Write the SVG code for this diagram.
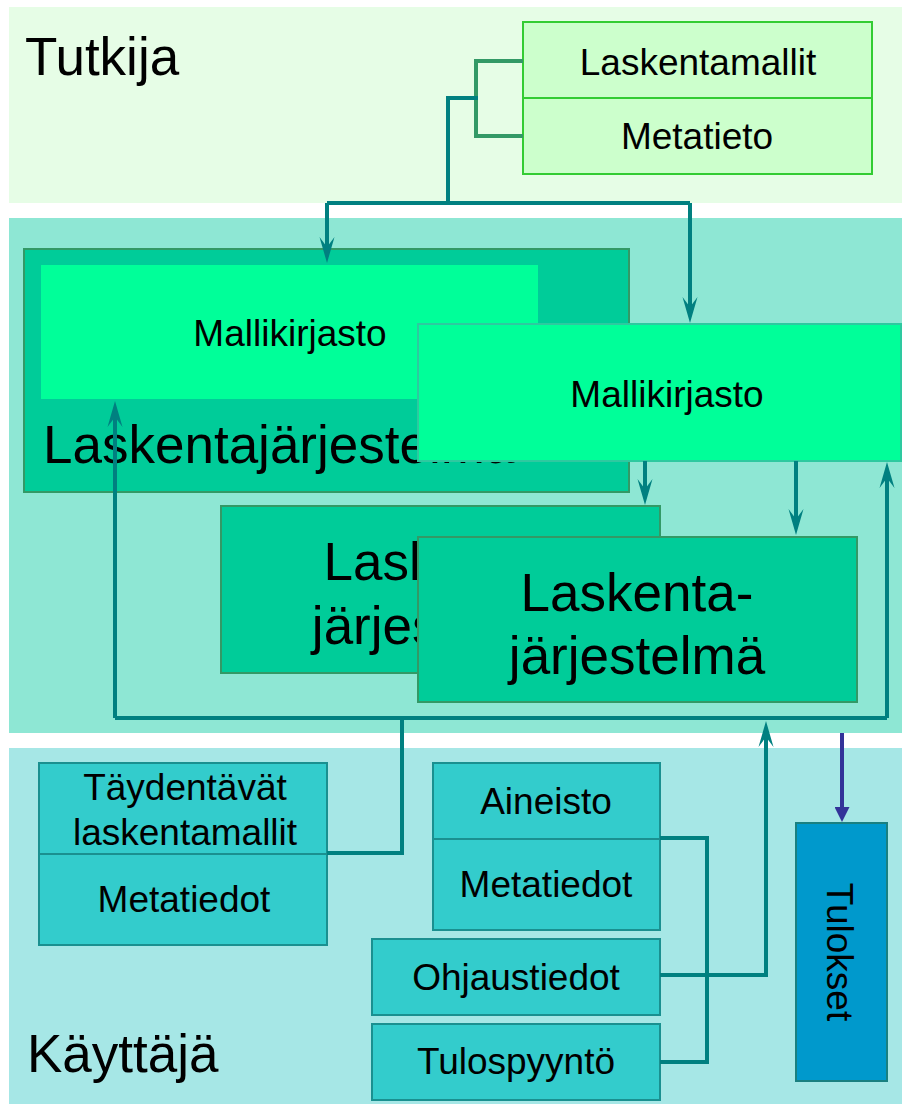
<svg xmlns="http://www.w3.org/2000/svg" width="902" height="1104" viewBox="0 0 902 1104">
  <style>
    text { font-family: "Liberation Sans", Arial, sans-serif; fill: #000; }
    .lbl { font-size: 37px; text-anchor: middle; }
    .big { font-size: 53px; }
    .bigc { font-size: 53px; text-anchor: middle; }
    .sys { fill: #00cc99; stroke: #339966; stroke-width: 2; }
    .lib { fill: #00ff99; }
    .top { fill: #ccffcc; stroke: #33cc33; stroke-width: 2; }
    .usr { fill: #33cccc; stroke: #1a9090; stroke-width: 2; }
    .wire { fill: none; stroke: #008080; stroke-width: 4; stroke-linejoin: miter; }
    .arrow { marker-end: url(#ah); }
  </style>
  <defs>
    <marker id="ah" viewBox="0 0 26 16" refX="10" refY="8" markerWidth="26" markerHeight="16" markerUnits="userSpaceOnUse" orient="auto">
      <path d="M26,8 L0,0.5 L10,8 L0,15.5 Z" fill="#008080"/>
    </marker>
    <marker id="ahb" viewBox="0 0 15 15" refX="2" refY="7.5" markerWidth="15" markerHeight="15" markerUnits="userSpaceOnUse" orient="auto">
      <path d="M0,0 L15,7.5 L0,15 Z" fill="#333399"/>
    </marker>
  </defs>

  <!-- role bands -->
  <g id="band-tutkija">
    <rect x="9" y="7" width="893" height="196" fill="#e6fde6"/>
    <text class="big" x="25" y="75">Tutkija</text>
  </g>
  <g id="band-system">
    <rect x="9" y="218" width="893" height="515" fill="#8ee7d4"/>
  </g>
  <g id="band-kayttaja">
    <rect x="9" y="748" width="893" height="356" fill="#a6e7e6"/>
    <text class="big" x="27" y="1072">Käyttäjä</text>
  </g>

  <!-- researcher inputs -->
  <g id="laskentamallit">
    <rect class="top" x="523" y="22" width="349" height="76"/>
    <text class="lbl" x="698" y="75">Laskentamallit</text>
  </g>
  <g id="metatieto">
    <rect class="top" x="523" y="98" width="349" height="76"/>
    <text class="lbl" x="697" y="149">Metatieto</text>
  </g>

  <!-- computing system with its model library -->
  <g id="laskentajarjestelma-1">
    <rect class="sys" x="24" y="249" width="605" height="243"/>
    <rect class="lib" x="41" y="265" width="497" height="134"/>
    <text class="lbl" x="290" y="346">Mallikirjasto</text>
    <text class="big" x="43" y="463">Laskentajärjestelmä</text>
  </g>
  <g id="mallikirjasto-2">
    <rect class="lib" x="418" y="324" width="483" height="137" stroke="#2ec9a0" stroke-width="2"/>
    <text class="lbl" x="667" y="407">Mallikirjasto</text>
  </g>
  <g id="laskentajarjestelma-2">
    <rect class="sys" x="221" y="506" width="439" height="167"/>
    <text class="bigc" x="440" y="580">Laskenta-</text>
    <text class="bigc" x="440" y="644">järjestelmä</text>
  </g>
  <g id="laskentajarjestelma-3">
    <rect class="sys" x="418" y="537" width="439" height="165"/>
    <text class="bigc" x="637" y="611">Laskenta-</text>
    <text class="bigc" x="637" y="674">järjestelmä</text>
  </g>

  <!-- user inputs -->
  <g id="taydentavat">
    <rect class="usr" x="39" y="763" width="288" height="91"/>
    <text class="lbl" x="185" y="800">Täydentävät</text>
    <text class="lbl" x="185" y="845">laskentamallit</text>
  </g>
  <g id="metatiedot-1">
    <rect class="usr" x="39" y="854" width="288" height="91"/>
    <text class="lbl" x="184" y="912">Metatiedot</text>
  </g>
  <g id="aineisto">
    <rect class="usr" x="433" y="763" width="227" height="76"/>
    <text class="lbl" x="546" y="814">Aineisto</text>
  </g>
  <g id="metatiedot-2">
    <rect class="usr" x="433" y="839" width="227" height="91"/>
    <text class="lbl" x="546" y="897">Metatiedot</text>
  </g>
  <g id="ohjaustiedot">
    <rect class="usr" x="372" y="939" width="288" height="76"/>
    <text class="lbl" x="516" y="990">Ohjaustiedot</text>
  </g>
  <g id="tulospyynto">
    <rect class="usr" x="372" y="1024" width="288" height="76"/>
    <text class="lbl" x="516" y="1074">Tulospyyntö</text>
  </g>
  <g id="tulokset">
    <rect x="796" y="823" width="91" height="258" fill="#0099cc" stroke="#1a8080" stroke-width="2"/>
    <text class="lbl" transform="translate(827,952) rotate(90)">Tulokset</text>
  </g>

  <!-- connectors -->
  <g id="connectors">
    <path d="M523,61 H476 V136 H523" fill="none" stroke="#339966" stroke-width="4"/>
    <path class="wire" d="M478,98 H448 V203"/>
    <path class="wire" d="M327,203 H690"/>
    <path class="wire arrow" d="M327,203 V247"/>
    <path class="wire arrow" d="M690,203 V307"/>
    <path class="wire arrow" d="M645,461 V489"/>
    <path class="wire arrow" d="M796,461 V519"/>
    <path class="wire" d="M115,718 H887"/>
    <path class="wire arrow" d="M115,718 V417"/>
    <path class="wire arrow" d="M887,718 V478"/>
    <path class="wire" d="M327,853 H402 V718"/>
    <path class="wire" d="M660,838 H707 V1062 H660"/>
    <path class="wire arrow" d="M660,975 H766 V737"/>
    <path d="M842,733 V809" fill="none" stroke="#333399" stroke-width="4" marker-end="url(#ahb)"/>
  </g>
</svg>
